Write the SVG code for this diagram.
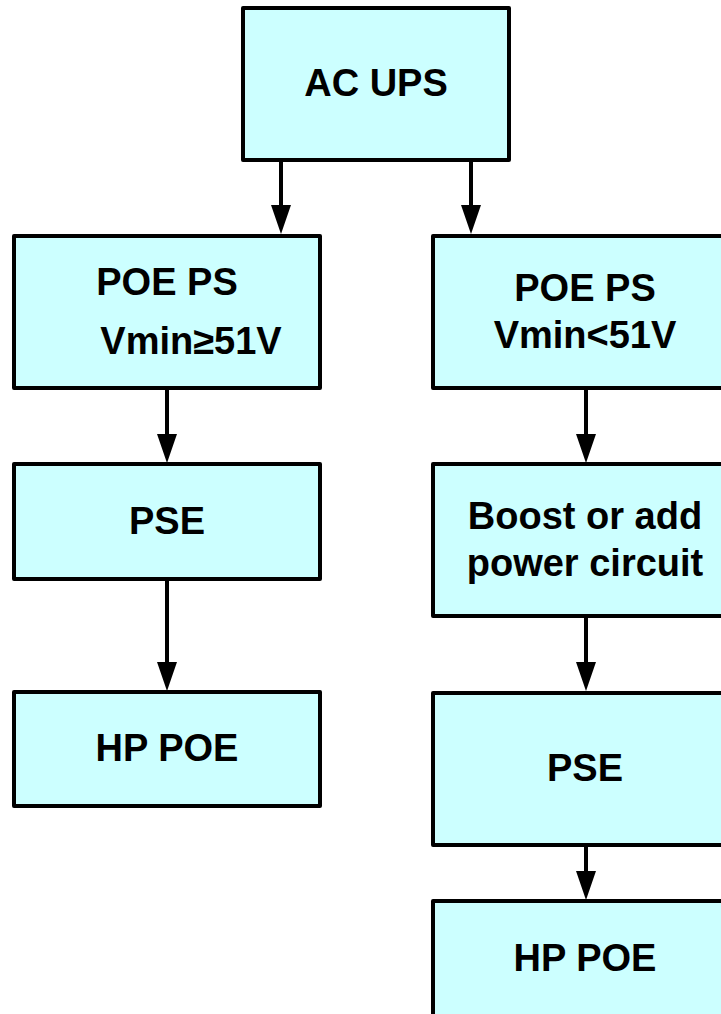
<svg xmlns="http://www.w3.org/2000/svg" width="721" height="1014" viewBox="0 0 721 1014">
<style>
.box{fill:#ccffff;stroke:#000;stroke-width:4;stroke-linejoin:round}
.t{font-family:"Liberation Sans",Arial,sans-serif;font-weight:bold;font-size:38px;fill:#000;text-anchor:middle}
.c{stroke:#000;stroke-width:4;fill:none}
</style>
<rect width="721" height="1014" fill="#fff"/>
<g id="connectors">
<path class="c" d="M281,161 V206"/><path d="M271,205 L281,234 L291,205 Z"/>
<path class="c" d="M471,161 V206"/><path d="M461,205 L471,234 L481,205 Z"/>
<path class="c" d="M167,389 V435"/><path d="M157,434 L167,463 L177,434 Z"/>
<path class="c" d="M586,389 V435"/><path d="M576,434 L586,463 L596,434 Z"/>
<path class="c" d="M167,579 V663"/><path d="M157,662 L167,691 L177,662 Z"/>
<path class="c" d="M586,616 V663"/><path d="M576,662 L586,691 L596,662 Z"/>
<path class="c" d="M586,845 V872"/><path d="M576,871 L586,900 L596,871 Z"/>
</g>
<g id="ac-ups"><rect class="box" x="243" y="8" width="266" height="152"/><text class="t" x="376" y="96">AC UPS</text></g>
<g id="poe-ps-left"><rect class="box" x="14" y="236" width="306" height="152"/><text class="t" x="167" y="295">POE PS</text><text class="t" x="191" y="354">Vmin≥51V</text></g>
<g id="poe-ps-right"><rect class="box" x="433" y="236" width="300" height="152"/><text class="t" x="585" y="301">POE PS</text><text class="t" x="585" y="348">Vmin&lt;51V</text></g>
<g id="pse-left"><rect class="box" x="14" y="464" width="306" height="115"/><text class="t" x="167" y="534">PSE</text></g>
<g id="boost"><rect class="box" x="433" y="464" width="300" height="152"/><text class="t" x="585" y="529">Boost or add</text><text class="t" x="585" y="576">power circuit</text></g>
<g id="hp-poe-left"><rect class="box" x="14" y="692" width="306" height="114"/><text class="t" x="167" y="761">HP POE</text></g>
<g id="pse-right"><rect class="box" x="433" y="693" width="300" height="152"/><text class="t" x="585" y="781">PSE</text></g>
<g id="hp-poe-right"><rect class="box" x="433" y="901" width="300" height="130"/><text class="t" x="585" y="971">HP POE</text></g>
</svg>
